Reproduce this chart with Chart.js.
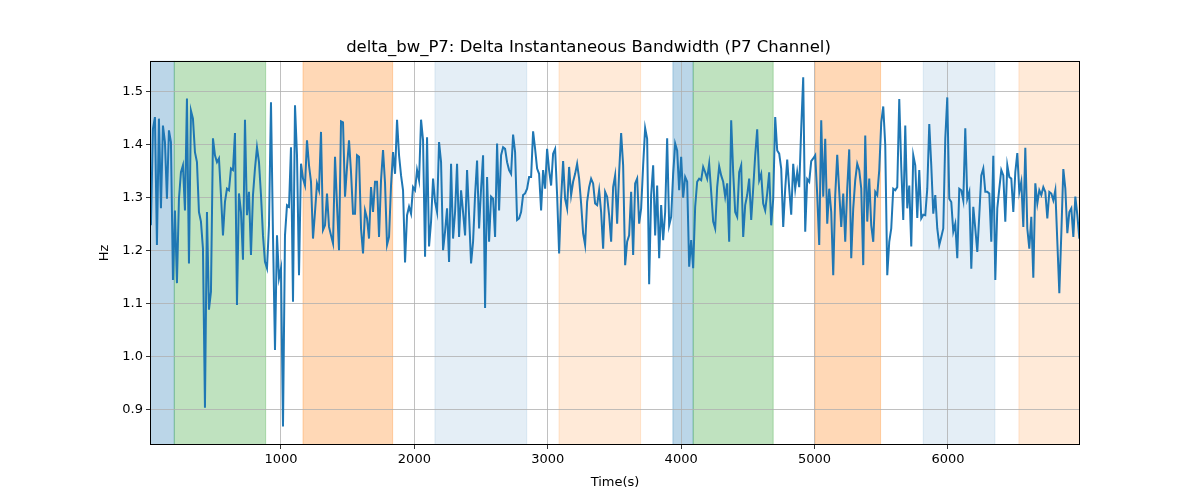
<!DOCTYPE html>
<html>
<head>
<meta charset="utf-8">
<script src="https://cdn.jsdelivr.net/npm/chart.js@4.4.0/dist/chart.umd.min.js"></script>
<style>
  html, body { margin: 0; padding: 0; background: #fff; }
  #wrap { width: 1200px; height: 500px; }
</style>
</head>
<body>
<div id="wrap"><canvas id="bwChart"></canvas></div>
<script>
// samples are evenly spaced in time
const sampleStart = 25;   // s
const samplePeriod = 15;  // s

const deltaBw = [
  1.248,1.430,1.452,1.211,1.449,1.280,1.436,1.405,1.298,1.427,1.405,1.145,1.276,1.139,1.298,1.348,1.361,1.276,1.487,1.176,
  1.464,1.449,1.386,1.367,1.273,1.255,1.204,0.904,1.273,1.089,1.123,1.412,1.380,1.367,1.374,1.305,1.229,1.292,1.317,1.314,
  1.355,1.352,1.422,1.098,1.308,1.273,1.183,1.447,1.267,1.311,1.192,1.305,1.355,1.395,1.367,1.305,1.229,1.179,1.167,1.248,
  1.480,1.229,1.013,1.229,1.148,1.167,0.869,1.229,1.286,1.283,1.395,1.104,1.474,1.380,1.154,1.364,1.336,1.323,
  1.408,1.361,1.330,1.223,1.273,1.327,1.314,1.424,1.239,1.248,1.308,1.245,1.229,1.214,1.377,1.286,1.201,1.444,1.442,1.302,
  1.358,1.408,1.348,1.270,1.270,1.380,1.377,1.242,1.195,1.276,1.261,1.223,1.320,1.273,1.330,1.330,1.226,1.333,1.390,1.327,
  1.211,1.226,1.323,1.386,1.345,1.447,1.380,1.342,1.314,1.178,1.267,1.283,1.270,1.320,1.314,1.352,1.333,1.447,1.408,1.189,
  1.414,1.208,1.255,1.336,1.292,1.273,1.405,1.367,1.201,1.236,1.280,1.179,1.364,1.223,1.273,1.364,1.226,1.314,
  1.273,1.229,1.352,1.267,1.176,1.217,1.305,1.370,1.242,1.317,1.380,1.092,1.339,1.217,1.302,1.298,1.226,1.402,1.276,1.380,
  1.395,1.392,1.367,1.352,1.345,1.419,1.386,1.258,1.261,1.273,1.305,1.308,1.317,1.339,1.339,1.425,1.392,1.355,1.345,1.276,
  1.352,1.317,1.392,1.352,1.323,1.383,1.392,1.305,1.195,1.298,1.369,1.298,1.280,1.358,1.305,1.330,1.345,1.364,1.336,1.289,
  1.233,1.211,1.292,1.320,1.336,1.327,1.289,1.286,1.314,1.273,1.204,1.311,1.302,1.267,1.217,1.320,1.342,
  1.251,1.348,1.422,1.361,1.173,1.217,1.229,1.311,1.192,1.327,1.336,1.251,1.280,1.361,1.431,1.411,1.137,1.305,1.361,1.229,
  1.323,1.186,1.286,1.220,1.273,1.412,1.248,1.264,1.345,1.402,1.389,1.314,1.377,1.300,1.339,1.330,1.170,1.220,1.167,1.283,
  1.330,1.336,1.333,1.358,1.348,1.336,1.364,1.311,1.255,1.242,1.320,1.359,1.342,1.330,1.302,1.327,1.217,1.446,1.348,1.273,
  1.264,1.348,1.361,1.226,1.286,1.305,1.336,1.258,1.317,1.380,1.429,1.333,1.345,1.289,1.276,1.308,1.348,1.248,
  1.298,1.452,1.389,1.383,1.355,1.245,1.317,1.372,1.317,1.268,1.364,1.317,1.348,1.320,1.430,1.527,1.236,1.335,1.330,1.369,
  1.374,1.380,1.305,1.211,1.446,1.302,1.411,1.251,1.317,1.273,1.154,1.305,1.381,1.311,1.245,1.308,1.217,1.317,1.391,1.186,
  1.280,1.333,1.364,1.352,1.317,1.173,1.417,1.255,1.336,1.248,1.217,1.311,1.305,1.352,1.442,1.472,1.399,1.154,1.217,1.242,
  1.317,1.314,1.320,1.486,1.358,1.258,1.436,1.280,1.323,1.208,1.380,1.361,1.262,1.352,1.261,1.268,1.267,
  1.317,1.439,1.361,1.270,1.305,1.242,1.211,1.226,1.242,1.411,1.489,1.298,1.292,1.236,1.251,1.186,1.317,1.314,1.295,1.431,
  1.298,1.311,1.166,1.283,1.242,1.198,1.267,1.342,1.355,1.311,1.311,1.308,1.217,1.379,1.145,1.280,1.317,1.352,1.342,1.255,
  1.361,1.339,1.336,1.273,1.348,1.384,1.311,1.330,1.245,1.394,1.242,1.204,1.264,1.149,1.327,1.289,1.314,1.305,1.320,1.311,
  1.261,1.311,1.308,1.295,1.314,1.217,1.120,1.233,1.354,1.317,1.233,1.273,1.280,1.226,1.302,1.267,1.223,1.267
];

// shaded phases (s)
const phaseStart = [18, 200, 1165, 2154, 3084, 3938, 4090, 5003, 5815, 6532];
const phaseEnd   = [200, 885, 1837, 2842, 3696, 4090, 4690, 5495, 6352, 6990];
const phaseKind  = ["blue", "green", "orange", "paleBlue", "paleOrange", "blue", "green", "orange", "paleBlue", "paleOrange"];

const xTicks = [1000, 2000, 3000, 4000, 5000, 6000];
const yTicks = [0.9, 1.0, 1.1, 1.2, 1.3, 1.4, 1.5];

const phaseFill = {
  blue: "rgba(31,119,180,0.3)",
  green: "rgba(44,160,44,0.3)",
  orange: "rgba(255,127,14,0.3)",
  paleBlue: "rgba(31,119,180,0.12)",
  paleOrange: "rgba(255,127,14,0.16)"
};

const points = deltaBw.map((v, i) => ({ x: sampleStart + i * samplePeriod, y: v }));

const FONT = "'DejaVu Sans', sans-serif";
Chart.defaults.color = "#000";
Chart.defaults.font.family = FONT;

const phasePlugin = {
  id: "phases",
  beforeDraw(chart) {
    const { ctx, chartArea: a, scales: { x } } = chart;
    ctx.save();
    ctx.beginPath();
    ctx.rect(a.left, a.top, a.width, a.height);
    ctx.clip();
    phaseStart.forEach((s, i) => {
      const x0 = x.getPixelForValue(s);
      const x1 = x.getPixelForValue(phaseEnd[i]);
      ctx.fillStyle = phaseFill[phaseKind[i]];
      ctx.fillRect(x0, a.top, x1 - x0, a.height);
      ctx.strokeStyle = phaseFill[phaseKind[i]];
      ctx.lineWidth = 1;
      ctx.strokeRect(x0, a.top, x1 - x0, a.height);
    });
    ctx.restore();
  },
  afterDatasetsDraw(chart) {
    const { ctx, chartArea: a } = chart;
    ctx.save();
    ctx.strokeStyle = "#000";
    ctx.lineWidth = 1;
    ctx.strokeRect(Math.round(a.left) + 0.5, Math.round(a.top) + 0.5,
                   Math.round(a.width) - 1, Math.round(a.height) - 1);
    ctx.restore();
  }
};

const ctx = document.getElementById("bwChart").getContext("2d");

const bwChart = new Chart(ctx, {
  type: "line",
  data: {
    datasets: [{
      label: "delta_bw_P7",
      data: points,
      borderColor: "#1f77b4",
      borderWidth: 2,
      pointRadius: 0,
      tension: 0,
      fill: false,
    }],
  },
  options: {
    responsive: true,
    maintainAspectRatio: false,
    animation: false,
    layout: { padding: { left: 97, right: 120, top: 0, bottom: 0 } },
    plugins: {
      legend: { display: false },
      tooltip: { enabled: false },
      title: {
        display: true,
        text: "delta_bw_P7: Delta Instantaneous Bandwidth (P7 Channel)",
        color: "#000",
        font: { family: FONT, size: 16.5, weight: "normal" },
        padding: { top: 38, bottom: 3 },
      },
    },
    scales: {
      x: {
        type: "linear",
        min: 18,
        max: 6990,
        afterBuildTicks: s => { s.ticks = xTicks.map(v => ({ value: v })); },
        afterFit: s => { s.height = 55; },
        ticks: {
          callback: v => String(v),
          font: { family: FONT, size: 13 },
          color: "#000",
          maxRotation: 0,
          autoSkip: false,
          padding: 3,
        },
        grid: { color: "#b0b0b0", lineWidth: 0.8, tickColor: "#000", tickLength: 4 },
        border: { display: false },
        title: {
          display: true,
          text: "Time(s)",
          font: { family: FONT, size: 13 },
          color: "#000",
          padding: { top: 4, bottom: 10 },
        },
      },
      y: {
        min: 0.834,
        max: 1.558,
        afterBuildTicks: s => { s.ticks = yTicks.map(v => ({ value: v })); },
        afterFit: s => { s.width = 53; },
        ticks: {
          callback: v => v.toFixed(1),
          font: { family: FONT, size: 13 },
          color: "#000",
          padding: 3,
        },
        grid: { color: "#b0b0b0", lineWidth: 0.8, tickColor: "#000", tickLength: 4 },
        border: { display: false },
        title: {
          display: true,
          text: "Hz",
          font: { family: FONT, size: 13 },
          color: "#000",
          padding: 0,
        },
      },
    },
  },
  plugins: [phasePlugin],
});
</script>
</body>
</html>
